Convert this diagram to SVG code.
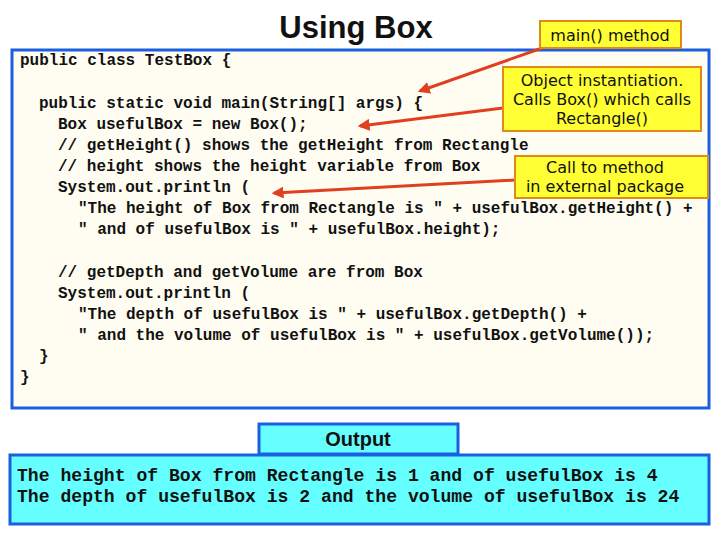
<svg xmlns="http://www.w3.org/2000/svg" width="720" height="540" viewBox="0 0 720 540">
<defs>
<style>
.code{font-family:"Liberation Mono",monospace;font-weight:bold;font-size:16px;fill:#111}
.out{font-family:"Liberation Mono",monospace;font-weight:bold;font-size:18.1px;fill:#111}
.call{fill:#ffff33;stroke:#e08a1a;stroke-width:2}
.ct{font-family:"DejaVu Sans",sans-serif;font-size:16px;fill:#111;text-anchor:middle}
.arr{stroke:#e04020;stroke-width:3;fill:none;marker-end:url(#ah)}
</style>
<marker id="ah" viewBox="0 0 10 10" refX="8" refY="5" markerWidth="4" markerHeight="4" orient="auto"><path d="M0,0L10,5L0,10z" fill="#e04020"/></marker>
</defs>
<rect width="720" height="540" fill="#fff"/>
<text x="356" y="38" font-family="Liberation Sans,sans-serif" font-weight="bold" font-size="31" text-anchor="middle" fill="#111">Using Box</text>
<g id="code">
<rect x="12" y="50" width="697" height="358" fill="#fffdf2" stroke="#1a5fe0" stroke-width="3"/>
<text class="code" x="20" y="65">public class TestBox {</text>
<text class="code" x="39" y="108">public static void main(String[] args) {</text>
<text class="code" x="58" y="129">Box usefulBox = new Box();</text>
<text class="code" x="58" y="150">// getHeight() shows the getHeight from Rectangle</text>
<text class="code" x="58" y="171">// height shows the height variable from Box</text>
<text class="code" x="58" y="192">System.out.println (</text>
<text class="code" x="78" y="213">"The height of Box from Rectangle is " + usefulBox.getHeight() +</text>
<text class="code" x="78" y="234">" and of usefulBox is " + usefulBox.height);</text>
<text class="code" x="58" y="277">// getDepth and getVolume are from Box</text>
<text class="code" x="58" y="298">System.out.println (</text>
<text class="code" x="78" y="319">"The depth of usefulBox is " + usefulBox.getDepth() +</text>
<text class="code" x="78" y="340">" and the volume of usefulBox is " + usefulBox.getVolume());</text>
<text class="code" x="39" y="361">}</text>
<text class="code" x="20" y="382">}</text>
</g>
<g id="output-label">
<rect x="259" y="424" width="199" height="30" fill="#66ffff" stroke="#1a5fe0" stroke-width="3"/>
<text x="358" y="446" font-family="Liberation Sans,sans-serif" font-weight="bold" font-size="20" text-anchor="middle" fill="#111">Output</text>
</g>
<g id="output">
<rect x="10" y="455" width="699" height="69" fill="#66ffff" stroke="#1a5fe0" stroke-width="3"/>
<text class="out" x="17" y="481">The height of Box from Rectangle is 1 and of usefulBox is 4</text>
<text class="out" x="17" y="502">The depth of usefulBox is 2 and the volume of usefulBox is 24</text>
</g>
<g id="connectors">
<line class="arr" x1="545" y1="47" x2="420" y2="91"/>
<line class="arr" x1="503" y1="108" x2="360" y2="126"/>
<line class="arr" x1="515" y1="180" x2="274" y2="193"/>
</g>
<g id="callout-main">
<rect class="call" x="540" y="21" width="141" height="27"/>
<text class="ct" x="610" y="41">main() method</text>
</g>
<g id="callout-inst">
<rect class="call" x="503" y="67" width="198" height="64"/>
<text class="ct" x="602" y="86">Object instantiation.</text>
<text class="ct" x="602" y="105">Calls Box() which calls</text>
<text class="ct" x="602" y="124">Rectangle()</text>
</g>
<g id="callout-call">
<rect class="call" x="515" y="156" width="193" height="42"/>
<text class="ct" x="605" y="173">Call to method</text>
<text class="ct" x="605" y="192">in external package</text>
</g>
</svg>
